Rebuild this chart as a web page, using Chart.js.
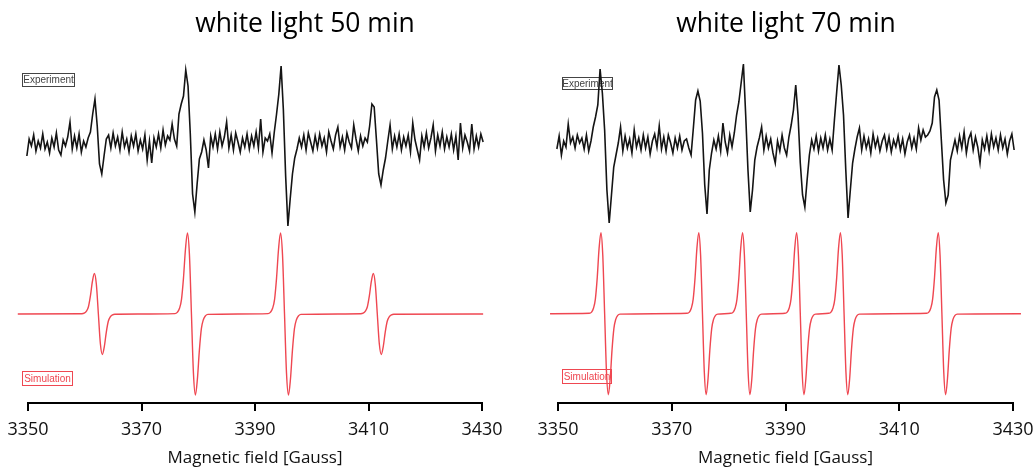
<!DOCTYPE html>
<html>
<head>
<meta charset="utf-8">
<script src="https://cdn.jsdelivr.net/npm/chart.js@4"></script>
<style>
  html, body { margin: 0; padding: 0; background: #fff; overflow: hidden; }
  #wrap { position: relative; width: 1035px; height: 468px; overflow: hidden; background: #fff; }
  .panel { position: absolute; top: 0; }
  .title { position: absolute; top: 9px; font-family: "Open Sans", sans-serif; font-size: 26.5px; line-height: 1; color: #000; white-space: nowrap; transform: translateX(-50%); }
</style>
</head>
<body>
<div id="wrap">
  <canvas id="c1" class="panel" width="517" height="468" style="left:0"></canvas>
  <canvas id="c2" class="panel" width="560" height="468" style="left:517px"></canvas>
  <div class="title" id="t1" style="left:305px"></div>
  <div class="title" id="t2" style="left:786px"></div>
</div>
<script>
// ---------- DATA ----------
const panelTitles = ["white light 50 min", "white light 70 min"];
const seriesNames = ["Experiment", "Simulation"];
const axisTitle = "Magnetic field [Gauss]";
const fieldTicks = [3350, 3370, 3390, 3410, 3430];

// Experimental spectra, sampled on a regular field grid
const exp50Start = 3348.2, exp70Start = 3348.6, expStep = 0.4;
const exp50 = [
  2, -6, 8, -3, -12, 5, -2, 9, -7, 3,
  -4, 10, -5, 2, -9, 6, -3, 11, -6, -11,
  4, -2, 7, 22, -5, 8, -4, 10, -8, 3,
  -3, 6, 12, 30, 45, 18, -20, -30, -12, 5,
  9, -4, 11, -2, 7, -6, 12, -3, 5, -8,
  8, -2, 10, -7, 4, -5, 9, -16, 3, -19,
  6, -3, 10, -4, 14, -1, 8, 4, 20, 5,
  -2, 30, 40, 48, 74, 58, 10, -50, -68, -40,
  -15, -8, 4, -6, -24, 8, -3, 10, -5, 12,
  -2, 7, 22, -4, 9, -6, 11, 2, -8, 6,
  -3, 10, -5, 8, -2, 12, -4, 25, -8, 6,
  3, 10, -9, 12, 30, 50, 78, 34, -32, -82,
  -55, -30, -14, -5, 6, -3, 9, -6, 11, 2,
  -7, 8, -4, 10, -2, 6, -8, 12, 3, -5,
  9, 17, -3, 7, -6, 11, 2, -4, 19, 5,
  -7, 8, -2, 6, 2, 18, 40, 37, 4, -30,
  -41, -26, -14, 3, 19, -5, 8, -3, 10, -6,
  7, -2, 9, -8, 21, 4, -6, -16, 8, -3,
  11, -4, 6, 19, -7, 9, -2, 12, -5, 7,
  -3, 10, -6, 8, -16, 21, -4, 9, 2, -7,
  20, -5, 8, -3, 10, 2
];
const exp70 = [
  3, -8, 6, -4, 9, -10, 4, -2, 21, 2,
  8, -3, 10, 2, 7, -4, 10, -6, 4, 18,
  28, 40, 76, 52, 15, -45, -78, -50, -22, -10,
  2, 18, -6, 9, -3, 6, -8, 15, -2, 7,
  -5, 10, -3, 8, -9, 4, 11, -2, 19, -4,
  8, -6, 10, 2, -8, 7, -3, 9, -5, 4,
  6, -3, -10, 17, 45, 54, 44, 12, -40, -69,
  -25, -8, 5, -4, 9, -6, 22, 3, -8, 10,
  -2, 12, 30, 43, 62, 81, 30, -25, -67, -45,
  -15, -2, 7, 18, -5, 9, -3, 6, -8, -18,
  4, -6, 10, -3, -10, 8, 20, 35, 60, 30,
  -18, -50, -62, -35, -10, 5, -4, 9, -6, 7,
  -3, 10, -5, 6, -5, 25, 53, 80, 60, 30,
  -25, -73, -45, -18, -4, 8, 17, -5, 9, -3,
  6, -8, 11, -2, 7, -6, 4, 10, -4, 8,
  -7, 5, -2, 9, -5, 6, -9, 3, 10, -3,
  7, -4, 17, 5, 15, 8, 10, 14, 22, 48,
  55, 45, 5, -35, -58, -50, -15, -5, 5, -6,
  9, -3, 13, -8, 6, 12, -5, 8, -2, -18,
  5, -4, 9, -6, 11, -2, 7, -5, 10, -3,
  6, -9, 4, 11, -5, 7, -2, 8
];

// Simulated spectra (field, signal)
const sim50Field = [
  3348.2,
  3359.5, 3359.9, 3360.3, 3360.65, 3361.0, 3361.35, 3361.7, 3362.05, 3362.4, 3362.75, 3363.1, 3363.45, 3363.8, 3364.15, 3364.5, 3364.9, 3365.3,
  3375.9, 3376.3, 3376.7, 3377.05, 3377.4, 3377.75, 3378.1, 3378.45, 3378.8, 3379.15, 3379.5, 3379.85, 3380.2, 3380.55, 3380.9, 3381.3, 3381.7,
  3392.3, 3392.7, 3393.1, 3393.45, 3393.8, 3394.15, 3394.5, 3394.85, 3395.2, 3395.55, 3395.9, 3396.25, 3396.6, 3396.95, 3397.3, 3397.7, 3398.1,
  3408.65, 3409.05, 3409.45, 3409.8, 3410.15, 3410.5, 3410.85, 3411.2, 3411.55, 3411.9, 3412.25, 3412.6, 3412.95, 3413.3, 3413.65, 3414.05, 3414.45,
  3430.2
];
const sim50 = [
  0,
  0.003, 0.01, 0.035, 0.09, 0.223, 0.402, 0.5, 0.364, 0, -0.364, -0.5, -0.402, -0.223, -0.09, -0.035, -0.01, -0.003,
  0.005, 0.02, 0.07, 0.181, 0.446, 0.803, 1, 0.727, 0, -0.727, -1, -0.803, -0.446, -0.181, -0.07, -0.02, -0.005,
  0.005, 0.02, 0.07, 0.181, 0.446, 0.803, 1, 0.727, 0, -0.727, -1, -0.803, -0.446, -0.181, -0.07, -0.02, -0.005,
  0.003, 0.01, 0.035, 0.09, 0.223, 0.402, 0.5, 0.364, 0, -0.364, -0.5, -0.402, -0.223, -0.09, -0.035, -0.01, -0.003,
  0
];
const sim70Field = [
  3348.6,
  3355.5, 3355.9, 3356.25, 3356.57, 3356.9, 3357.22, 3357.55, 3357.87, 3358.2, 3358.53, 3358.85, 3359.18, 3359.5, 3359.83, 3360.15, 3360.5, 3360.9,
  3372.7, 3373.1, 3373.45, 3373.77, 3374.1, 3374.42, 3374.75, 3375.07, 3375.4, 3375.73, 3376.05, 3376.38, 3376.7, 3377.03, 3377.35, 3377.7, 3378.1,
  3380.4, 3380.8, 3381.15, 3381.47, 3381.8, 3382.12, 3382.45, 3382.77, 3383.1, 3383.43, 3383.75, 3384.08, 3384.4, 3384.73, 3385.05, 3385.4, 3385.8,
  3389.9, 3390.3, 3390.65, 3390.97, 3391.3, 3391.62, 3391.95, 3392.27, 3392.6, 3392.93, 3393.25, 3393.58, 3393.9, 3394.23, 3394.55, 3394.9, 3395.3,
  3397.6, 3398.0, 3398.35, 3398.67, 3399.0, 3399.32, 3399.65, 3399.97, 3400.3, 3400.63, 3400.95, 3401.28, 3401.6, 3401.93, 3402.25, 3402.6, 3403.0,
  3414.8, 3415.2, 3415.55, 3415.87, 3416.2, 3416.52, 3416.85, 3417.17, 3417.5, 3417.83, 3418.15, 3418.48, 3418.8, 3419.13, 3419.45, 3419.8, 3420.2,
  3431.4
];
const sim70 = [
  0,
  0.005, 0.02, 0.07, 0.181, 0.446, 0.803, 1, 0.727, 0, -0.727, -1, -0.803, -0.446, -0.181, -0.07, -0.02, -0.005,
  0.005, 0.02, 0.07, 0.181, 0.446, 0.803, 1, 0.727, 0, -0.727, -1, -0.803, -0.446, -0.181, -0.07, -0.02, -0.005,
  0.005, 0.02, 0.07, 0.181, 0.446, 0.803, 1, 0.727, 0, -0.727, -1, -0.803, -0.446, -0.181, -0.07, -0.02, -0.005,
  0.005, 0.02, 0.07, 0.181, 0.446, 0.803, 1, 0.727, 0, -0.727, -1, -0.803, -0.446, -0.181, -0.07, -0.02, -0.005,
  0.005, 0.02, 0.07, 0.181, 0.446, 0.803, 1, 0.727, 0, -0.727, -1, -0.803, -0.446, -0.181, -0.07, -0.02, -0.005,
  0.005, 0.02, 0.07, 0.181, 0.446, 0.803, 1, 0.727, 0, -0.727, -1, -0.803, -0.446, -0.181, -0.07, -0.02, -0.005,
  0
];

// ---------- RENDERING ----------
const EXP_COLOR = '#141414';
const SIM_COLOR = '#ef4751';
const X_AXIS_HEIGHT = 65;

const labelBoxes = {
  id: 'labelBoxes',
  beforeDatasetsDraw(chart, args, opts) {
    const ctx = chart.ctx;
    (opts.boxes || []).forEach(b => {
      ctx.save();
      ctx.strokeStyle = b.color;
      ctx.lineWidth = 1;
      ctx.strokeRect(b.x + 0.5, b.y + 0.5, b.w, b.h);
      ctx.fillStyle = b.color;
      ctx.font = '10px "Liberation Sans", Arial, sans-serif';
      ctx.textAlign = 'center';
      ctx.textBaseline = 'middle';
      ctx.fillText(b.text, b.x + b.w / 2 + 0.5, b.y + b.h / 2 + 1);
      ctx.restore();
    });
  }
};

function gridPoints(start, step, values) {
  return values.map((v, i) => ({ x: +(start + i * step).toFixed(3), y: v }));
}
function pairPoints(xs, ys) {
  return xs.map((x, i) => ({ x: x, y: ys[i] }));
}

function makeChart(id, cfg) {
  return new Chart(document.getElementById(id), {
    type: 'line',
    data: {
      datasets: [
        {
          label: seriesNames[0],
          data: cfg.exp,
          yAxisID: 'yExp',
          borderColor: EXP_COLOR,
          borderWidth: 1.6,
          pointRadius: 0,
          tension: 0,
          clip: false
        },
        {
          label: seriesNames[1],
          data: cfg.sim,
          yAxisID: 'ySim',
          borderColor: SIM_COLOR,
          borderWidth: 1.4,
          pointRadius: 0,
          cubicInterpolationMode: 'monotone',
          clip: false
        }
      ]
    },
    options: {
      responsive: false,
      animation: false,
      events: [],
      layout: { padding: cfg.padding },
      plugins: {
        legend: { display: false },
        tooltip: { enabled: false },
        labelBoxes: { boxes: cfg.boxes }
      },
      scales: {
        x: {
          type: 'linear',
          min: fieldTicks[0],
          max: fieldTicks[fieldTicks.length - 1],
          afterBuildTicks: s => { s.ticks = fieldTicks.map(v => ({ value: v })); },
          afterFit: s => { s.height = X_AXIS_HEIGHT; s.paddingLeft = 0; s.paddingRight = 0; },
          border: { display: true, color: '#000', width: 2 },
          grid: { display: true, drawOnChartArea: false, drawTicks: true, tickLength: 8, tickColor: '#000', tickWidth: 2, color: '#000', lineWidth: 2 },
          ticks: {
            autoSkip: false, maxRotation: 0, padding: 8, color: '#111',
            font: { family: '"Open Sans", sans-serif', size: 18 },
            callback: v => String(v)
          },
          title: {
            display: true, text: axisTitle, color: '#111',
            font: { family: '"Open Sans", sans-serif', size: 17, lineHeight: 1 },
            padding: { top: 0, bottom: 1.5 }
          }
        },
        yExp: { display: false, min: cfg.expMin, max: cfg.expMax },
        ySim: { display: false, min: cfg.simMin, max: cfg.simMax }
      }
    },
    plugins: [labelBoxes]
  });
}

document.getElementById('t1').textContent = panelTitles[0];
document.getElementById('t2').textContent = panelTitles[1];

makeChart('c1', {
  exp: gridPoints(exp50Start, expStep, exp50),
  sim: pairPoints(sim50Field, sim50),
  padding: { left: 28, right: 35, top: 0, bottom: 0 },
  expMin: -259, expMax: 144,
  simMin: -1.0988, simMax: 3.8765,
  boxes: [
    { text: seriesNames[0], x: 22, y: 73, w: 52, h: 13, color: '#444' },
    { text: seriesNames[1], x: 22, y: 371, w: 50, h: 14, color: SIM_COLOR }
  ]
});

makeChart('c2', {
  exp: gridPoints(exp70Start, expStep, exp70),
  sim: pairPoints(sim70Field, sim70),
  padding: { left: 41, right: 64, top: 0, bottom: 0 },
  expMin: -258, expMax: 145,
  simMin: -1.1025, simMax: 3.873,
  boxes: [
    { text: seriesNames[0], x: 45, y: 77, w: 50, h: 12, color: '#444' },
    { text: seriesNames[1], x: 45, y: 369, w: 49, h: 14, color: SIM_COLOR }
  ]
});
</script>
</body>
</html>
